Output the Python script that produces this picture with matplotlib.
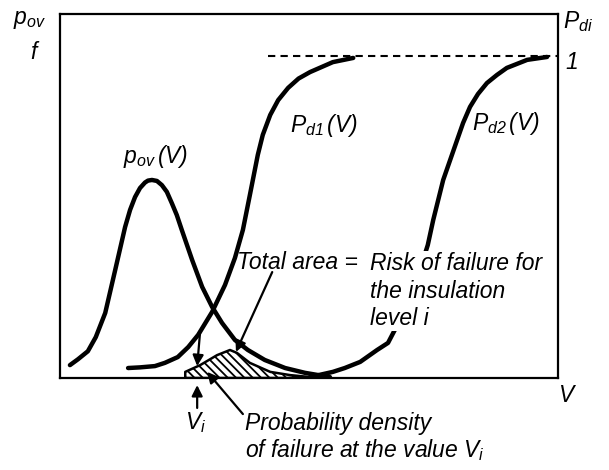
import numpy as np
import matplotlib
matplotlib.use("Agg")
import matplotlib.pyplot as plt

plt.rcParams['font.family'] = ['Liberation Sans', 'DejaVu Sans']
plt.rcParams['font.style'] = 'italic'
plt.rcParams['mathtext.fontset'] = 'custom'
plt.rcParams['mathtext.it'] = 'Liberation Sans:italic'
plt.rcParams['mathtext.rm'] = 'Liberation Sans:italic'
plt.rcParams['mathtext.default'] = 'it'
plt.rcParams['hatch.linewidth'] = 1.3

# curves (V in arbitrary units, 0..10)
pov_v = [0.20, 0.36, 0.56, 0.72, 0.91, 1.11, 1.31, 1.41, 1.51, 1.61, 1.71, 1.77, 1.85, 1.95,
         2.05, 2.15, 2.25, 2.35, 2.45, 2.66, 2.86, 3.06, 3.26, 3.52, 3.78, 4.12, 4.53, 4.93, 5.43]
pov_y = [0.040, 0.058, 0.083, 0.127, 0.202, 0.335, 0.469, 0.522, 0.562, 0.590, 0.607, 0.613,
         0.615, 0.612, 0.599, 0.578, 0.543, 0.506, 0.460, 0.366, 0.283, 0.221, 0.171, 0.118,
         0.087, 0.056, 0.031, 0.016, 0.003]

pd1_v = [1.37, 1.61, 1.91, 2.11, 2.37, 2.58, 2.78, 3.06, 3.32, 3.52, 3.68, 3.82, 3.98, 4.08,
         4.23, 4.39, 4.59, 4.80, 5.03, 5.49, 5.90]
pd1_y = [0.031, 0.033, 0.037, 0.047, 0.065, 0.096, 0.134, 0.205, 0.289, 0.373, 0.460, 0.568,
         0.693, 0.755, 0.817, 0.863, 0.901, 0.930, 0.950, 0.981, 0.994]

pd2_v = [5.03, 5.49, 5.73, 6.04, 6.38, 6.60, 6.84, 7.08, 7.24, 7.40, 7.51, 7.71, 7.99, 8.11,
         8.25, 8.41, 8.59, 8.79, 8.99, 9.40, 9.80]
pd2_y = [0.003, 0.019, 0.031, 0.050, 0.087, 0.109, 0.180, 0.258, 0.335, 0.413, 0.491, 0.615,
         0.739, 0.792, 0.842, 0.882, 0.916, 0.941, 0.963, 0.988, 0.997]

# hatched risk density
risk_v = [2.52, 2.82, 3.16, 3.42, 3.56, 3.82, 4.23, 4.63, 5.03]
risk_y = [0.019, 0.040, 0.071, 0.087, 0.078, 0.047, 0.019, 0.009, 0.003]

fig = plt.figure(figsize=(6.09, 4.70), dpi=100)
ax = fig.add_axes([60/609, 1-378/470, 498/609, 364/470])
ax.set_xlim(0, 10.02)
ax.set_ylim(0, 364/322)
ax.set_xticks([])
ax.set_yticks([])
for s in ax.spines.values():
    s.set_linewidth(1.6)

lw = 3.2
for vv, yy in [(pov_v, pov_y), (pd1_v, pd1_y), (pd2_v, pd2_y)]:
    ax.plot(vv, yy, color='black', lw=lw, solid_joinstyle='round', solid_capstyle='round')
ax.hlines(1.0, 4.19, 10.02, colors='black', linestyles=(0, (3.5, 2.5)), lw=1.5)

ax.fill_between(risk_v, 0, risk_y, facecolor='white', edgecolor='black', hatch='\\\\\\\\',
                lw=1.8)

fs = 16.5
ax.text(-0.95, 1.112, '$p_{ov}$', fontsize=fs, va='center', ha='left', clip_on=False)
ax.text(-0.50, 1.012, '$f$', fontsize=fs, va='center', ha='center', clip_on=False)
ax.text(10.12, 1.106, '$P_{di}$', fontsize=fs, va='center', ha='left', clip_on=False)
ax.text(10.16, 0.981, '1', fontsize=fs, va='center', ha='left', clip_on=False)
ax.text(10.22, -0.053, '$V$', fontsize=fs, va='center', ha='center', clip_on=False)

ax.text(1.27, 0.668, r'$p_{ov}\,(V)$', fontsize=fs, va='baseline', ha='left')
ax.text(4.63, 0.764, r'$P_{d1}\,(V)$', fontsize=fs, va='baseline', ha='left')
ax.text(8.29, 0.770, r'$P_{d2}\,(V)$', fontsize=fs, va='baseline', ha='left')

ax.text(3.56, 0.360, 'Total area =', fontsize=fs, va='center', ha='left')
ax.text(6.24, 0.391, 'Risk of failure for\nthe insulation\nlevel i', fontsize=fs,
        va='top', ha='left', linespacing=1.25, zorder=5,
        bbox=dict(facecolor='white', edgecolor='none', pad=1))

ax.text(2.72, -0.137, '$V_i$', fontsize=fs, va='center', ha='center', clip_on=False)
ax.text(3.72, -0.140, 'Probability density', fontsize=fs, va='center', ha='left', clip_on=False)
ax.text(3.72, -0.224, 'of failure at the value $V_i$', fontsize=fs, va='center', ha='left',
        clip_on=False)

arr = dict(arrowstyle='-|>', color='black', lw=1.6, mutation_scale=16, shrinkA=0, shrinkB=0)
ax.annotate('', xy=(2.76, 0.037), xytext=(2.82, 0.145), arrowprops=arr)
ax.annotate('', xy=(2.76, -0.022), xytext=(2.76, -0.093), arrowprops=arr,
            annotation_clip=False)
ax.annotate('', xy=(3.54, 0.081), xytext=(4.27, 0.329), arrowprops=arr)
ax.annotate('', xy=(2.96, 0.019), xytext=(3.68, -0.112), arrowprops=arr,
            annotation_clip=False)

fig.savefig('out.png', dpi=100)
